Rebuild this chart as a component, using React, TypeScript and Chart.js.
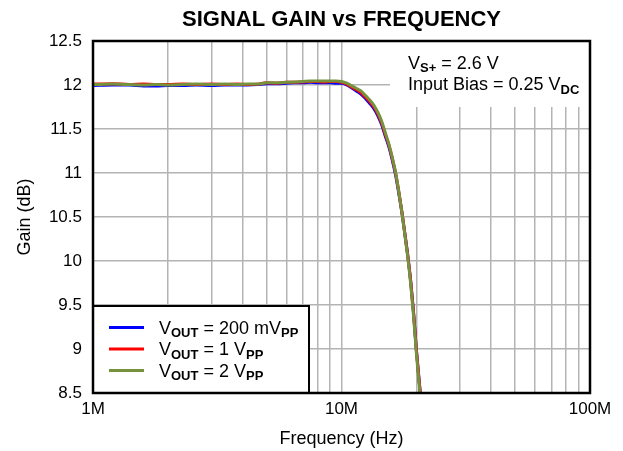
import React, { useEffect, useRef } from "react";
import { Chart, registerables } from "chart.js";

Chart.register(...registerables);

// ---- Data (frequency in MHz, gain in dB) ----
const freqMHz = [
  1, 1.2, 1.4, 1.6, 1.8, 2, 2.3, 2.6, 3, 3.4, 3.8, 4.2, 4.6, 5, 5.5, 6, 6.5, 7, 7.5, 8, 8.5, 9, 9.5,
  10, 10.5, 11, 11.5, 12, 12.5, 13, 13.5, 14, 14.5, 15, 15.5, 16, 16.5, 17, 17.5, 18, 18.5, 19, 19.5, 20, 20.5, 21, 21.5,
];
const gain200mV = [
  11.995, 12.0, 12.0, 11.99, 11.99, 11.995, 11.995, 12.0, 11.995, 12.0, 12.0, 12.0, 12.005, 12.015, 12.015, 12.02, 12.025, 12.025, 12.03, 12.025, 12.025, 12.025, 12.02,
  12.02, 12.0, 11.965, 11.93, 11.895, 11.845, 11.79, 11.73, 11.65, 11.55, 11.42, 11.3, 11.15, 10.98, 10.77, 10.55, 10.3, 10.05, 9.76, 9.41, 9.0, 8.66, 8.34, 8.0,
];
const gain1V = [
  12.01, 12.015, 12.005, 12.01, 12.005, 12.005, 12.01, 12.005, 12.01, 12.005, 12.01, 12.005, 12.01, 12.025, 12.02, 12.03, 12.03, 12.035, 12.04, 12.04, 12.035, 12.04, 12.04,
  12.03, 12.01, 11.975, 11.945, 11.91, 11.86, 11.81, 11.75, 11.67, 11.57, 11.44, 11.32, 11.17, 11.0, 10.79, 10.56, 10.31, 10.05, 9.76, 9.41, 9.0, 8.66, 8.34, 8.0,
];
const gain2V = [
  12.005, 12.01, 12.005, 12.0, 12.005, 12.0, 12.005, 12.01, 12.005, 12.01, 12.005, 12.01, 12.01, 12.025, 12.025, 12.03, 12.035, 12.04, 12.045, 12.045, 12.045, 12.045, 12.045,
  12.04, 12.02, 11.99, 11.96, 11.93, 11.88, 11.83, 11.77, 11.69, 11.59, 11.46, 11.33, 11.18, 11.01, 10.79, 10.55, 10.29, 10.03, 9.73, 9.37, 8.96, 8.62, 8.3, 7.95,
];

const xGridTicks = [
  1e6, 2e6, 3e6, 4e6, 5e6, 6e6, 7e6, 8e6, 9e6,
  1e7, 2e7, 3e7, 4e7, 5e7, 6e7, 7e7, 8e7, 9e7, 1e8,
];
const xTickLabels: Record<number, string> = { 1e6: "1M", 1e7: "10M", 1e8: "100M" };
const yMin = 8.5;
const yMax = 12.5;
const yStep = 0.5;

const chartTitle = "SIGNAL GAIN vs FREQUENCY";
const xTitle = "Frequency (Hz)";
const yTitle = "Gain (dB)";

// rich-text parts: [text, isSubscript]
const seriesLabels: [string, boolean][][] = [
  [["V", false], ["OUT", true], [" = 200 mV", false], ["PP", true]],
  [["V", false], ["OUT", true], [" = 1 V", false], ["PP", true]],
  [["V", false], ["OUT", true], [" = 2 V", false], ["PP", true]],
];
const seriesColors = ["#0000ff", "#ff0000", "#76923c"];
const noteLines: [string, boolean][][] = [
  [["V", false], ["S+", true], [" = 2.6 V", false]],
  [["Input Bias = 0.25 V", false], ["DC", true]],
];

const FONT = '"Liberation Sans", Arial, Helvetica, sans-serif';

function drawRich(ctx: CanvasRenderingContext2D, x: number, y: number, parts: [string, boolean][]) {
  let cx = x;
  for (const [t, sub] of parts) {
    ctx.font = sub ? `bold 13px ${FONT}` : `18px ${FONT}`;
    ctx.fillText(t, cx, sub ? y + 3.5 : y);
    cx += ctx.measureText(t).width;
  }
}

const overlayPlugin = {
  id: "overlay",
  beforeDatasetsDraw(chart: any) {
    const ctx: CanvasRenderingContext2D = chart.ctx;
    const a = chart.chartArea;
    ctx.save();
    // annotation box (white, covers grid)
    ctx.fillStyle = "#ffffff";
    ctx.fillRect(390, a.top, a.right - 390, 107 - a.top);
    ctx.fillStyle = "#000000";
    ctx.textBaseline = "alphabetic";
    ctx.textAlign = "left";
    drawRich(ctx, 408, 68.5, noteLines[0]);
    drawRich(ctx, 408, 90, noteLines[1]);

    // legend box
    const lx = a.left, ly = 306, lw = 309 - a.left, lh = a.bottom - 306;
    ctx.fillStyle = "#ffffff";
    ctx.fillRect(lx, ly, lw, lh);
    ctx.strokeStyle = "#000000";
    ctx.lineWidth = 2;
    ctx.strokeRect(lx, ly, lw, lh);
    const baselines = [333.5, 355, 376.5];
    seriesLabels.forEach((parts, i) => {
      ctx.strokeStyle = seriesColors[i];
      ctx.lineWidth = 3;
      ctx.beginPath();
      ctx.moveTo(109, baselines[i] - 6);
      ctx.lineTo(144, baselines[i] - 6);
      ctx.stroke();
      ctx.fillStyle = "#000000";
      drawRich(ctx, 159, baselines[i], parts);
    });
    ctx.restore();
  },
  afterDraw(chart: any) {
    const ctx: CanvasRenderingContext2D = chart.ctx;
    const a = chart.chartArea;
    ctx.save();
    ctx.strokeStyle = "#000000";
    ctx.lineWidth = 2.5;
    ctx.strokeRect(a.left, a.top, a.right - a.left, a.bottom - a.top);
    ctx.fillStyle = "#000000";
    ctx.textAlign = "center";
    ctx.textBaseline = "alphabetic";
    ctx.font = `bold 22px ${FONT}`;
    ctx.fillText(chartTitle, (a.left + a.right) / 2, 26);
    ctx.font = `18px ${FONT}`;
    ctx.fillText(xTitle, (a.left + a.right) / 2, 443.5);
    ctx.translate(30, (a.top + a.bottom) / 2);
    ctx.rotate(-Math.PI / 2);
    ctx.fillText(yTitle, 0, 0);
    ctx.restore();
  },
};

export default function App() {
  const ref = useRef<HTMLCanvasElement>(null);
  useEffect(() => {
    if (!ref.current) return;
    const mk = (vals: number[]) => freqMHz.map((f, i) => ({ x: f * 1e6, y: vals[i] }));
    const common = { borderWidth: 3, pointRadius: 0, cubicInterpolationMode: "monotone" };
    const chart = new Chart(ref.current, {
      type: "line",
      data: {
        datasets: [
          { label: "200mV", data: mk(gain200mV), borderColor: seriesColors[0], order: 3, ...common },
          { label: "1V", data: mk(gain1V), borderColor: seriesColors[1], order: 2, ...common },
          { label: "2V", data: mk(gain2V), borderColor: seriesColors[2], order: 1, ...common },
        ],
      },
      options: {
        animation: false,
        responsive: false,
        devicePixelRatio: 1,
        layout: { padding: { top: 41, right: 33, left: 0, bottom: 0 } },
        plugins: { legend: { display: false }, tooltip: { enabled: false }, title: { display: false } },
        scales: {
          x: {
            type: "logarithmic",
            min: 1e6,
            max: 1e8,
            border: { display: false },
            grid: { color: "#b4b4b4", lineWidth: 1.5, drawTicks: false },
            ticks: {
              autoSkip: false,
              maxRotation: 0,
              padding: 6,
              color: "#000000",
              font: { family: FONT, size: 17 },
              callback: (v: any) => xTickLabels[Number(v)] ?? "",
            },
            afterBuildTicks: (scale: any) => {
              scale.ticks = xGridTicks.map((v) => ({ value: v }));
            },
            afterFit: (scale: any) => {
              scale.height = 58;
              scale.paddingLeft = 0;
              scale.paddingRight = 0;
            },
          },
          y: {
            type: "linear",
            min: yMin,
            max: yMax,
            border: { display: false },
            grid: { color: "#b4b4b4", lineWidth: 1.5, drawTicks: false },
            ticks: {
              stepSize: yStep,
              padding: 11,
              color: "#000000",
              font: { family: FONT, size: 17 },
              callback: (v: any) => String(Number(v)),
            },
            afterFit: (scale: any) => {
              scale.width = 93;
              scale.paddingTop = 0;
              scale.paddingBottom = 0;
            },
          },
        },
      },
      plugins: [overlayPlugin],
    } as any);
    return () => chart.destroy();
  }, []);
  return (
    <div style={{ position: "fixed", left: 0, top: 0, width: 623, height: 451, background: "#fff" }}>
      <canvas ref={ref} width={623} height={451} style={{ display: "block" }} />
    </div>
  );
}
